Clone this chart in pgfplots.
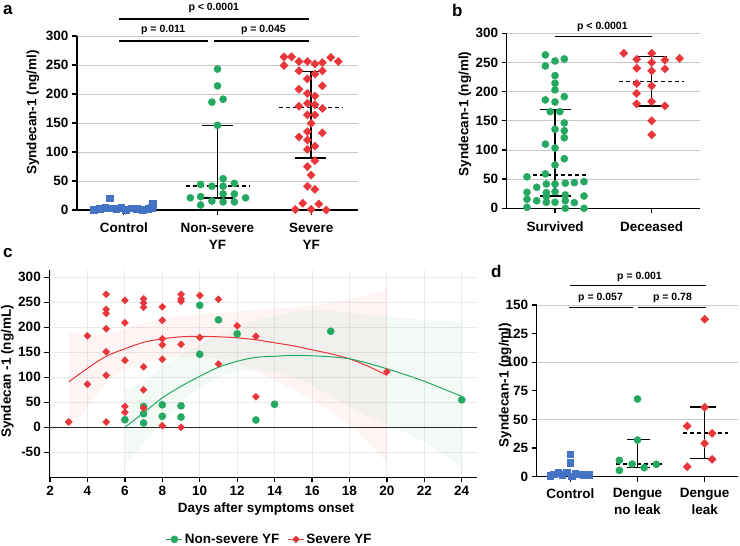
\documentclass[border=0pt]{standalone}
\usepackage{fontspec}
\setmainfont{Liberation Sans}
\usepackage{pgfplots}
\pgfplotsset{compat=1.18}
\definecolor{cblue}{RGB}{68,114,196}
\definecolor{cgreen}{RGB}{36,168,98}
\definecolor{cred}{RGB}{232,54,58}
\definecolor{gridg}{RGB}{200,200,200}
\definecolor{gridc}{RGB}{234,234,234}
\pgfplotsset{
  panel/.style={
    scale only axis, clip=false, anchor=south west,
    axis lines=left, axis line style={-, line width=1.5pt, black},
    tick style={black, line width=1.3pt},
    tick align=outside, major tick length=5pt,
    /pgf/number format/assume math mode=true,
    /pgf/number format/1000 sep={},
    xticklabel style={align=center, yshift=-4.5pt},
  },
  med/.style={black, line width=1.5pt, dash pattern=on 4pt off 3pt},
  bar/.style={black, line width=1.5pt},
  grn/.style={only marks, mark=*, color=cgreen, mark size=3.6pt},
  rdm/.style={only marks, mark=square*, color=cred, mark size=2.9pt, mark options={rotate=45}},
  blsq/.style={only marks, mark=square*, color=cblue, mark size=3.3pt},
}
\newcommand{\pv}{\fontsize{10.5}{12}\selectfont}
\begin{document}
\begin{tikzpicture}[font=\bfseries\fontsize{13.5}{17}\selectfont]
% ---------------- panel a
\begin{axis}[panel, at={(77pt,336pt)}, width=281pt, height=174pt,
  xmin=-0.5, xmax=2.5, ymin=0, ymax=300,
  xtick={0,1,2}, xticklabels={Control,{Non-severe\\YF},{Severe\\YF}},
  ytick={0,50,...,300},
  ymajorgrids, grid style={gridg, line width=0.7pt},
  ylabel={Syndecan-1 (ng/ml)},
  every axis y label/.style={at={(rel axis cs:-0.157,0.56)}, rotate=90, anchor=center},
]
\addplot[blsq] coordinates {(-0.32,1) (-0.26,2) (-0.2,4) (-0.15,20) (-0.14,3) (-0.08,2) (-0.03,4) (0.02,1) (0.08,3) (0.14,2) (0.2,1) (0.26,2) (0.3,4) (0.31,12) (0.31,7)};
\addplot[grn] coordinates {(1.0,243) (1.0,214) (0.94,186) (1.06,191) (1.0,146)
 (1.06,54) (0.82,44) (0.94,41) (1.06,41) (1.18,46)
 (0.71,21) (0.82,23) (1.06,27.6) (1.18,27.6) (1.30,21)
 (0.94,15.5) (1.06,14) (1.18,14) (0.82,8.6)};
\addplot[rdm] coordinates {(1.71,264) (1.79,264) (1.71,249) (1.87,256) (1.96,256) (2.04,252) (2.12,254) (2.21,263) (2.29,256)
 (1.87,240) (2.04,234.5) (2.12,240) (1.96,226) (1.87,208) (2.12,214) (1.96,201) (2.04,196.5) (1.96,184) (1.87,179) (2.04,181.6) (2.12,175) (1.96,164) (2.04,164) (2.0,149.4) (1.87,126) (1.96,135) (2.12,133) (1.96,120.7) (2.04,110) (1.96,104.6) (2.04,85) (1.96,74.7) (2.0,60) (1.96,41) (2.04,35.6) (1.91,11.5) (2.08,10.3) (1.83,1) (2.0,1) (2.16,0)};
\addplot[bar] coordinates {(1,21) (1,146)};
\addplot[bar] coordinates {(0.83,146) (1.17,146)};
\addplot[bar] coordinates {(0.83,21) (1.17,21)};
\addplot[med] coordinates {(0.66,41) (1.34,41)};
\addplot[bar] coordinates {(2,90) (2,239)};
\addplot[bar] coordinates {(1.83,239) (2.16,239)};
\addplot[bar] coordinates {(1.83,90) (2.16,90)};
\addplot[med] coordinates {(1.66,176.4) (2.34,176.4)};
\draw[line width=1.2pt] (axis cs:-0.053,329.3) -- (axis cs:1.98,329.3);
\draw[line width=1.2pt] (axis cs:-0.053,291.4) -- (axis cs:0.9,291.4);
\draw[line width=1.2pt] (axis cs:0.963,291.4) -- (axis cs:1.98,291.4);
\node at (axis cs:0.96,348) {\pv p < 0.0001};
\node at (axis cs:0.42,310) {\pv p = 0.011};
\node at (axis cs:1.49,310) {\pv p = 0.045};
\end{axis}
% ---------------- panel b
\begin{axis}[panel, at={(506.7pt,337.7pt)}, width=193.3pt, height=175pt,
  xmin=-0.5, xmax=1.5, ymin=0, ymax=300,
  xtick={0,1}, xticklabels={Survived,Deceased},
  ytick={0,50,...,300},
  ymajorgrids, grid style={gridg, line width=0.7pt},
  ylabel={Syndecan-1 (ng/ml)},
  every axis y label/.style={at={(rel axis cs:-0.216,0.539)}, rotate=90, anchor=center},
]
\addplot[grn] coordinates {(-0.10,263) (0.096,256) (0,252.6) (-0.10,244) (0,227.5) (0,214.4) (0,203) (-0.10,185.8) (0,182.3) (0.096,191.4) (-0.05,165.7) (0.05,165.7) (0.096,146.3) (0,135.5) (0.096,133) (0.096,121) (-0.10,110) (0,103.4) (0.096,85) (0,74.3) (-0.10,59) (-0.29,54)
 (-0.19,36) (-0.09,41.7) (0,41.7) (0.106,43) (0.2,44) (0.30,45.7) (-0.29,27.4) (-0.09,26.8) (0,28.5) (-0.19,13) (-0.29,15.4) (-0.09,20) (0.106,22.8) (0.30,21) (-0.09,10.3) (0,10.3) (0.106,13) (0.2,9.7) (-0.29,1.7) (0.106,0) (0.30,0)};
\addplot[rdm] coordinates {(0.71,265.8) (1,265.8) (1.29,257) (0.845,255.5) (1,250) (1.137,254) (0.845,240) (1.137,239) (1,235.5) (0.845,214) (1,209.8) (0.845,197) (0.845,179) (1,182.8) (1.137,175.5) (1,150) (1,126)};
\addplot[bar] coordinates {(0,21) (0,169)};
\addplot[bar] coordinates {(-0.16,169) (0.165,169)};
\addplot[bar] coordinates {(-0.16,21) (0.165,21)};
\addplot[med] coordinates {(-0.3,57) (0.33,57)};
\addplot[bar] coordinates {(1,175) (1,260)};
\addplot[bar] coordinates {(0.835,260) (1.16,260)};
\addplot[bar] coordinates {(0.835,175) (1.16,175)};
\addplot[med] coordinates {(0.66,217) (1.33,217)};
\draw[line width=1.2pt] (axis cs:0,294.3) -- (axis cs:1,294.3);
\node at (axis cs:0.49,311.5) {\pv p < 0.0001};
\end{axis}
% ---------------- panel c
\begin{axis}[panel, at={(49.3pt,68.7pt)}, width=427.4pt, height=207.5pt,
  xmin=1.96, xmax=24.8, ymin=-100, ymax=315,
  xtick={2,4,...,24}, ytick={-50,0,50,...,300},
  yticklabels={-50,0,50,100,150,200,250,300},
  xticklabel style={yshift=4.5pt},
  xmajorgrids, ymajorgrids, grid style={gridc, line width=0.8pt},
  xlabel={Days after symptoms onset},
  every axis x label/.style={at={(rel axis cs:0.507,-0.154)}, anchor=center},
  ylabel={Syndecan -1 (ng/mL)},
  every axis y label/.style={at={(rel axis cs:-0.098,0.51)}, rotate=90, anchor=center},
  legend style={at={(0.516,-0.299)}, anchor=center, draw=none, fill=none, legend columns=2,
    /tikz/every even column/.append style={column sep=6pt}},
]
\addlegendimage{legend image code/.code={\draw[cgreen,line width=1pt] (0pt,0pt)--(16pt,0pt); \fill[cgreen] (8pt,0pt) circle (3.6pt);}}
\addlegendentry{Non-severe YF}
\addlegendimage{legend image code/.code={\draw[cred,line width=1pt] (0pt,0pt)--(16pt,0pt); \fill[cred] (8pt,3.4pt)--(11.4pt,0pt)--(8pt,-3.4pt)--(4.6pt,0pt)--cycle;}}
\addlegendentry{Severe YF}
\addplot[draw=none, fill=cred, fill opacity=0.055, forget plot] coordinates {
 (3,191) (4,183) (5,186) (6,196) (7,208) (8,217) (9,222) (10,226) (11,229) (12,232) (13,234) (14,237) (15,240) (16,244) (17,250) (18,256) (19,265) (20,276)
 (20,-70) (19,-30) (18,5) (17,30) (16,55) (15,75) (14,95) (13,112) (12,128) (11,137) (10,141) (9,141) (8,138) (7,130) (6,115) (5,90) (4,40) (3,-5)} -- cycle;
\addplot[draw=none, fill=cgreen, fill opacity=0.055, forget plot] coordinates {
 (6,75) (7,89) (8,122) (9,145) (10,165) (11,185) (12,202) (13,215) (14,222) (15,230) (16,235) (17,233) (18,229) (19,225) (20,222) (21,218) (22,215) (23,213) (24,210)
 (24,-80) (23,-55) (22,-30) (21,-10) (20,5) (19,22) (18,40) (17,62) (16,85) (15,100) (14,110) (13,115) (12,112) (11,100) (10,80) (9,50) (8,12) (7,-30) (6,-77)} -- cycle;
\draw[line width=1.1pt, black!85] (axis cs:1.96,0) -- (axis cs:24.8,0);
\addplot[cred, line width=1pt, smooth, forget plot] coordinates {(3,91) (4,118) (5,142) (6,157) (7,170) (8,177) (9,181) (10,182) (11,181) (12,179) (13,175) (14,169) (15,163) (16,155) (17,147) (18,137) (19,122) (20,104)};
\addplot[cgreen, line width=1pt, smooth, forget plot] coordinates {(6,0) (7,29) (8,59) (9,82) (10,102) (11,120) (12,132) (13,140) (14,142) (15,144) (16,143) (17,141) (18,137) (19,128) (20,117) (21,105) (22,92) (23,77) (24,62)};
\addplot[grn, forget plot] coordinates {(6,15.2) (7,41.7) (7,27) (7,8.6) (8,45) (8,22) (9,43) (9,20.5) (10,244) (10,146) (11,215) (12,187) (13,14.6) (14,46) (17,192) (24,55)};
\addplot[rdm, mark size=2.5pt, forget plot] coordinates {(3,10.6) (4,183) (4,86) (5,266) (5,236) (5,228) (5,197) (5,151) (5,104) (5,10.6) (6,254) (6,209) (6,134) (6,41.7) (6,30) (7,257) (7,249) (7,240) (7,121) (7,75) (7,38.4) (8,241) (8,214) (8,177) (8,165) (8,136) (8,3.3) (9,266) (9,257) (9,252) (9,166) (9,0) (10,263.6) (10,179.5) (11,256) (11,126.5) (12,203) (13,182) (13,61) (20,111)};
\end{axis}
% ---------------- panel d
\begin{axis}[panel, at={(536.7pt,69.3pt)}, width=201.6pt, height=171.7pt,
  xmin=-0.5, xmax=2.5, ymin=0, ymax=150,
  xtick={0,1,2}, xticklabels={Control,{Dengue\\no leak},{Dengue\\leak}},
  xticklabel style={yshift=1.5pt},
  ytick={0,25,...,150},
  ylabel={Syndecan-1 (ng/ml)},
  every axis y label/.style={at={(rel axis cs:-0.157,0.534)}, rotate=90, anchor=center},
]
\draw[gridg, line width=0.7pt] (axis cs:-0.5,50) -- (axis cs:2.5,50);
\draw[gridg, line width=0.7pt] (axis cs:-0.5,100) -- (axis cs:2.5,100);
\draw[gridg, line width=0.7pt] (axis cs:-0.5,150) -- (axis cs:2.5,150);
\addplot[blsq] coordinates {(-0.3,1) (-0.25,2.3) (-0.18,3.5) (-0.12,2) (-0.05,3.8) (0,19.8) (0,12.2) (0.02,0.5) (0.07,2.5) (0.14,2.3) (0.2,1.5) (0.27,1.5)};
\addplot[grn] coordinates {(1.0,67.9) (1.0,32) (0.73,14.3) (0.73,5.5) (0.92,11) (1.10,7.9) (1.28,10.8)};
\addplot[rdm] coordinates {(2.0,137.5) (2.0,60.6) (1.74,44.3) (2.11,37.9) (2.0,29.1) (2.11,15.2) (1.74,8.7)};
\addplot[bar] coordinates {(1,8) (1,32.5)};
\addplot[bar] coordinates {(0.84,32.5) (1.19,32.5)};
\addplot[bar] coordinates {(0.84,8) (1.19,8)};
\addplot[med] coordinates {(0.68,11) (1.36,11)};
\addplot[bar] coordinates {(2,16) (2,61)};
\addplot[bar] coordinates {(1.78,61) (2.17,61)};
\addplot[bar] coordinates {(1.78,16) (2.17,16)};
\addplot[med] coordinates {(1.67,38) (2.35,38)};
\draw[line width=1.2pt] (axis cs:0,167) -- (axis cs:2.02,167);
\draw[line width=1.2pt] (axis cs:-0.02,147.7) -- (axis cs:0.93,147.7);
\draw[line width=1.2pt] (axis cs:1.01,147.7) -- (axis cs:2.02,147.7);
\node at (axis cs:1.03,174.8) {\pv p = 0.001};
\node at (axis cs:0.45,156.5) {\pv p = 0.057};
\node at (axis cs:1.52,156.5) {\pv p = 0.78};
\end{axis}
% panel letters
\node[anchor=base west, inner sep=0pt, font=\bfseries\fontsize{17}{20}\selectfont] at (3pt,531pt) {a};
\node[anchor=base west, inner sep=0pt, font=\bfseries\fontsize{17}{20}\selectfont] at (452pt,529.3pt) {b};
\node[anchor=base west, inner sep=0pt, font=\bfseries\fontsize{17}{20}\selectfont] at (3pt,288pt) {c};
\node[anchor=base west, inner sep=0pt, font=\bfseries\fontsize{17}{20}\selectfont] at (491pt,268pt) {d};
\pgfresetboundingbox
\path[use as bounding box] (0pt,0pt) rectangle (740pt,546pt);
\end{tikzpicture}
\end{document}
